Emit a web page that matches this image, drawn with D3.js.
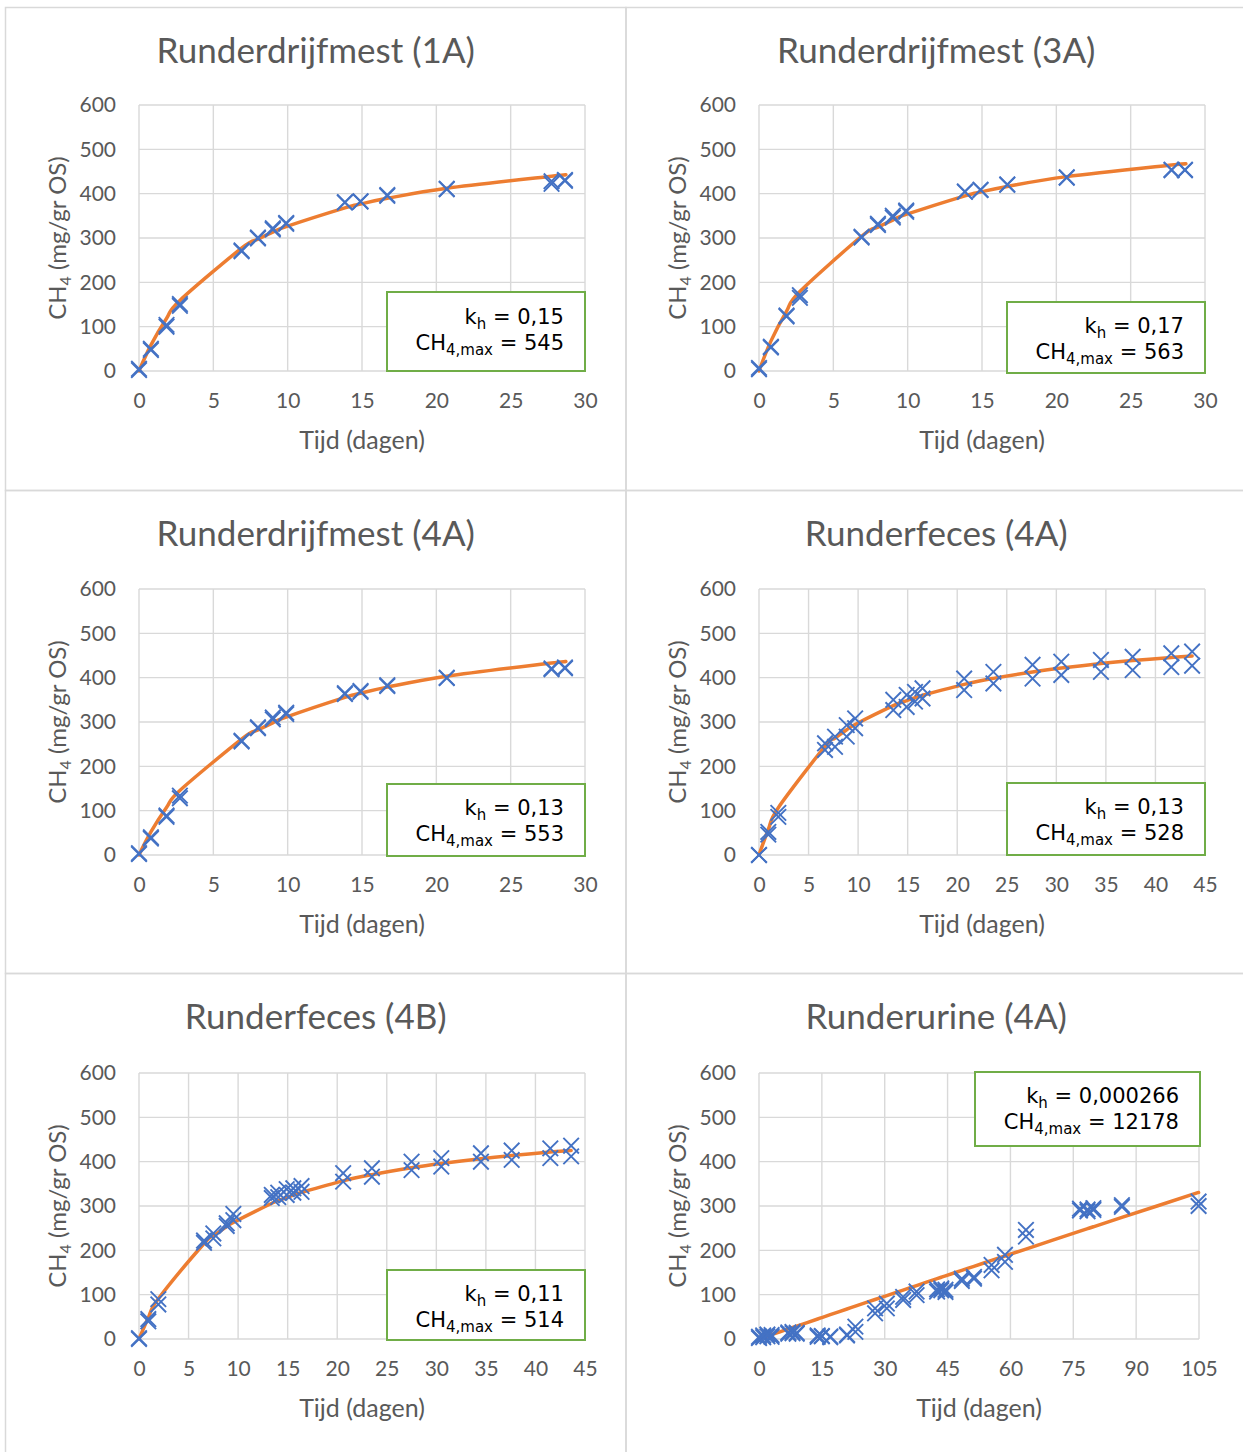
<!DOCTYPE html>
<html>
<head>
<meta charset="utf-8">
<script src="https://cdn.jsdelivr.net/npm/d3@7"></script>
<style>
  body { margin: 0; background: #ffffff; }
  svg { display: block; }
  .tick text { font-family: Lato, "Open Sans", sans-serif; fill: #595959; }
</style>
</head>
<body>
<svg id="chart" width="1243" height="1452"></svg>
<script>
// ---- Panel titles and fitted model parameters -----------------------------
const titles = [
  "Runderdrijfmest (1A)", "Runderdrijfmest (3A)", "Runderdrijfmest (4A)",
  "Runderfeces (4A)", "Runderfeces (4B)", "Runderurine (4A)"
];
const fitK   = [0.15, 0.17, 0.13, 0.13, 0.11, 0.000266];
const fitMax = [545, 563, 553, 528, 514, 12178];

// ---- Axis ticks -------------------------------------------------------------
const yTicks   = [0, 100, 200, 300, 400, 500, 600];
const xTicks30 = [0, 5, 10, 15, 20, 25, 30];
const xTicks45 = [0, 5, 10, 15, 20, 25, 30, 35, 40, 45];
const xTicks105 = [0, 15, 30, 45, 60, 75, 90, 105];

// ---- Measured cumulative CH4 (mg/gr OS), two replicates per sample --------
const daysDrijfmest = [0, 0.8, 1.85, 2.75, 6.9, 8.0, 9.0, 9.9, 13.85, 14.9, 16.7, 20.7, 27.75, 28.65];
const drijf1A_r1 = [2, 47, 100, 147, 270, 299, 319, 332, 380, 382, 395, 410, 422, 429];
const drijf1A_r2 = [5, 50, 104, 151, 272, 301, 322, 334, 381, 383, 397, 411, 428, 431];
const drijf3A_r1 = [4, 53, 123, 165, 301, 329, 346, 359, 404, 408, 420, 436, 453, 453];
const drijf3A_r2 = [7, 55, 125, 171, 303, 332, 350, 362, 405, 409, 421, 437, 454, 454];
const drijf4A_r1 = [2, 37, 86, 128, 256, 286, 306, 318, 363, 368, 381, 399, 419, 421];
const drijf4A_r2 = [4, 40, 89, 134, 258, 288, 310, 321, 365, 370, 383, 400, 421, 423];

const daysFeces4A = [0, 0.94, 1.95, 6.66, 7.67, 8.85, 9.7, 13.55, 14.9, 15.74, 16.5, 20.7, 23.65, 27.6, 30.5, 34.5, 37.7, 41.6, 43.7];
const feces4A_r1 = [0, 46, 86, 237, 244, 267, 286, 327, 334, 346, 353, 372, 387, 398, 406, 413, 417, 424, 427];
const feces4A_r2 = [0, 52, 95, 252, 267, 293, 308, 350, 361, 368, 376, 398, 413, 429, 436, 440, 447, 455, 459];

const daysFeces4B = [0, 0.94, 1.95, 6.56, 7.5, 8.85, 9.52, 13.4, 14.05, 14.9, 15.57, 16.4, 20.6, 23.5, 27.5, 30.5, 34.5, 37.6, 41.5, 43.6];
const feces4B_r1 = [0, 40, 78, 217, 227, 255, 268, 318, 320, 325, 330, 332, 355, 366, 381, 389, 400, 404, 408, 412];
const feces4B_r2 = [2, 45, 90, 222, 238, 261, 282, 325, 330, 338, 340, 345, 374, 385, 400, 408, 419, 425, 430, 436];

const daysUrine4A = [0, 1, 2, 3, 7, 8, 9, 14, 15, 17, 21, 23, 27.7, 30.5, 34.4, 37.6, 42.5, 43.5, 44.5, 48.4, 51.3, 55.5, 58.7, 63.7, 76.6, 78.4, 79.8, 86.6, 104.9];
const urine4A_r1 = [2, 4, 6, 5, 12, 13, 12, 5, 6, 4, 8, 16, 58, 69, 88, 99, 107, 110, 106, 131, 136, 155, 174, 231, 290, 288, 291, 298, 300];
const urine4A_r2 = [5, 8, 10, 9, 15, 16, 14, 8, 7, 6, 10, 28, 69, 80, 95, 107, 112, 114, 111, 136, 140, 167, 190, 246, 294, 292, 295, 302, 310];

// ---- Panel assembly -----------------------------------------------------------
const panels = [
  { days: daysDrijfmest, reps: [drijf1A_r1, drijf1A_r2], xTicks: xTicks30 },
  { days: daysDrijfmest, reps: [drijf3A_r1, drijf3A_r2], xTicks: xTicks30 },
  { days: daysDrijfmest, reps: [drijf4A_r1, drijf4A_r2], xTicks: xTicks30 },
  { days: daysFeces4A,   reps: [feces4A_r1, feces4A_r2], xTicks: xTicks45 },
  { days: daysFeces4B,   reps: [feces4B_r1, feces4B_r2], xTicks: xTicks45 },
  { days: daysUrine4A,   reps: [urine4A_r1, urine4A_r2], xTicks: xTicks105 }
].map((p, i) => ({ ...p, title: titles[i], k: fitK[i], max: fitMax[i] }));

// ---- Layout (pixels) ----------------------------------------------------------
const panelW = 620.5, panelH = 483;
const frameX0 = 5.5, frameY0 = 7.5;
const plotX0 = 139, plotY0 = 105, plotStepX = 620, plotStepY = 484;
const plotW = [446, 446, 446, 446, 446, 440];
const plotH = 266;
// statistics box per panel, relative to the plot's top-left corner
const boxes = [
  { x: 248, y: 187, w: 198, h: 79, t: 32 },
  { x: 248, y: 197, w: 198, h: 71, t: 31 },
  { x: 248, y: 195, w: 198, h: 72, t: 31 },
  { x: 248, y: 194, w: 198, h: 72, t: 31 },
  { x: 248, y: 197, w: 198, h: 70, t: 31 },
  { x: 216, y: -1,  w: 225, h: 74, t: 31 }
];

const C = {
  grid: "#d9d9d9", text: "#595959", marker: "#4472c4",
  fit: "#ed7d31", box: "#70ad47"
};
const fontUI = 'Lato, "Open Sans", sans-serif';
const fontBox = '"DejaVu Sans", Verdana, sans-serif';

const svg = d3.select("#chart");

// panel frames
panels.forEach((p, i) => {
  const col = i % 2, row = Math.floor(i / 2);
  svg.append("rect")
    .attr("x", frameX0 + col * panelW).attr("y", frameY0 + row * panelH)
    .attr("width", panelW).attr("height", panelH)
    .attr("fill", "none").attr("stroke", C.grid).attr("stroke-width", 1.5);
});

const crossPath = d3.symbol().type(d3.symbolX).size(160);
const fmtDec = v => String(v).replace(".", ",");

panels.forEach((p, i) => {
  const col = i % 2, row = Math.floor(i / 2);
  const ox = plotX0 + col * plotStepX, oy = plotY0 + row * plotStepY;
  const w = plotW[i];
  const panelCx = frameX0 + col * panelW + panelW / 2;
  const panelTop = frameY0 + row * panelH;

  const x = d3.scaleLinear().domain([0, d3.max(p.xTicks)]).range([0, w]);
  const y = d3.scaleLinear().domain([0, 600]).range([plotH, 0]);

  const g = svg.append("g").attr("transform", `translate(${ox},${oy})`);

  // title
  svg.append("text")
    .attr("x", panelCx).attr("y", panelTop + 55)
    .attr("text-anchor", "middle")
    .attr("font-family", fontUI).attr("font-size", 35)
    .attr("fill", C.text)
    .text(p.title);

  // gridlines
  g.append("g").selectAll("line").data(yTicks).join("line")
    .attr("x1", 0).attr("x2", w)
    .attr("y1", d => y(d)).attr("y2", d => y(d))
    .attr("stroke", C.grid).attr("stroke-width", 1.4);
  g.append("g").selectAll("line").data(p.xTicks).join("line")
    .attr("x1", d => x(d)).attr("x2", d => x(d))
    .attr("y1", 0).attr("y2", plotH)
    .attr("stroke", C.grid).attr("stroke-width", 1.4);

  // axes (labels only)
  const ya = g.append("g")
    .call(d3.axisLeft(y).tickValues(yTicks).tickSize(0).tickPadding(23));
  ya.select(".domain").remove();
  ya.selectAll("text").attr("font-size", 21);

  const xa = g.append("g").attr("transform", `translate(0,${plotH})`)
    .call(d3.axisBottom(x).tickValues(p.xTicks).tickSize(0).tickPadding(22));
  xa.select(".domain").remove();
  xa.selectAll("text").attr("font-size", 21);

  // axis titles
  g.append("text")
    .attr("x", w / 2).attr("y", plotH + 78)
    .attr("text-anchor", "middle")
    .attr("font-family", fontUI).attr("font-size", 25)
    .attr("fill", C.text)
    .text("Tijd (dagen)");

  const yt = g.append("text")
    .attr("transform", `translate(${-73},${plotH / 2}) rotate(-90)`)
    .attr("text-anchor", "middle")
    .attr("font-family", fontUI).attr("font-size", 24)
    .attr("fill", C.text);
  yt.append("tspan").text("CH");
  yt.append("tspan").attr("font-size", 16).attr("dy", 5).text("4");
  yt.append("tspan").attr("dy", -5).text(" (mg/gr OS)");

  // fitted curve: CH4 = CH4,max * k*t / (1 + k*t), evaluated at the sampling days
  const fitDays = Array.from(new Set(p.days)).sort((a, b) => a - b);
  const fitPts = fitDays.map(t => [t, p.max * p.k * t / (1 + p.k * t)]);
  g.append("path")
    .datum(fitPts)
    .attr("fill", "none")
    .attr("stroke", C.fit).attr("stroke-width", 3.5)
    .attr("stroke-linecap", "round").attr("stroke-linejoin", "round")
    .attr("d", d3.line().x(d => x(d[0])).y(d => y(d[1])).curve(d3.curveCardinal.tension(0)));

  // measured points
  p.reps.forEach(rep => {
    g.append("g").selectAll("path")
      .data(p.days.map((t, j) => [t, rep[j]]))
      .join("path")
      .attr("transform", d => `translate(${x(d[0])},${y(d[1])})`)
      .attr("d", crossPath)
      .attr("fill", "none")
      .attr("stroke", C.marker).attr("stroke-width", 1.9);
  });

  // statistics box
  const b = boxes[i];
  g.append("rect")
    .attr("x", b.x).attr("y", b.y).attr("width", b.w).attr("height", b.h)
    .attr("fill", "#ffffff").attr("stroke", C.box).attr("stroke-width", 2);
  const tx = b.x + b.w - 21;
  const l1 = g.append("text")
    .attr("x", tx).attr("y", b.y + b.t)
    .attr("text-anchor", "end")
    .attr("font-family", fontBox).attr("font-size", 21).attr("fill", "#000");
  l1.append("tspan").text("k");
  l1.append("tspan").attr("font-size", 15).attr("dy", 5).text("h");
  l1.append("tspan").attr("dy", -5).text(" = " + fmtDec(p.k));
  const l2 = g.append("text")
    .attr("x", tx).attr("y", b.y + b.t + 26)
    .attr("text-anchor", "end")
    .attr("font-family", fontBox).attr("font-size", 21).attr("fill", "#000");
  l2.append("tspan").text("CH");
  l2.append("tspan").attr("font-size", 15).attr("dy", 5).text("4,max");
  l2.append("tspan").attr("dy", -5).text(" = " + fmtDec(p.max));
});
</script>
</body>
</html>
